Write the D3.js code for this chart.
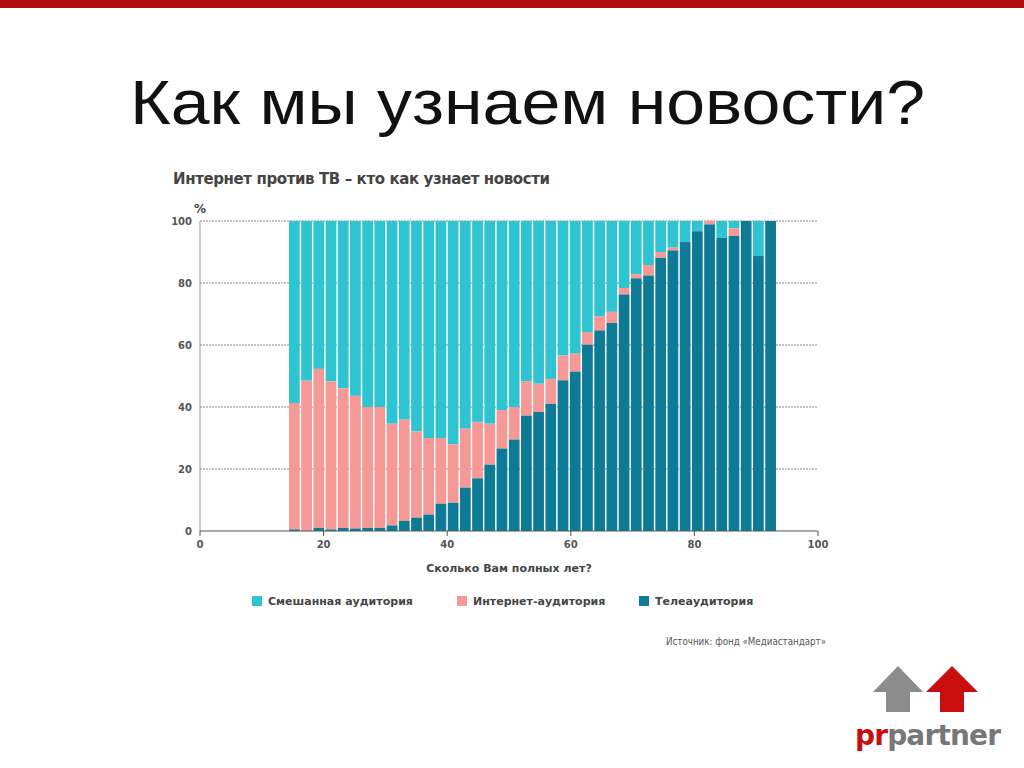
<!DOCTYPE html><html><head><meta charset="utf-8">
<script src="https://cdn.jsdelivr.net/npm/d3@7"></script>
<style>body{margin:0;background:#fff}</style></head><body>
<svg id="c" width="1024" height="768"></svg>
<script>
const binLabels = d3.range(40).map(i=>String(14+2*i));
const tv = [0.5,0,1,0.5,1,0.8,1,1,1.8,3.3,4.3,5.3,8.8,9.1,14,17,21.4,26.6,29.5,37.2,38.4,41,48.6,51.4,60.1,64.7,67.1,76.3,81.5,82.4,88.1,90.5,93.2,96.7,98.9,94.6,95.2,100,88.7,100];
const tvNet = [41.3,48.5,52.3,48.3,46,43.6,40,40,34.6,35.9,32.1,30,30,28,33,35.2,34.6,39,40,48.3,47.5,49,56.6,57.2,64.2,69.3,70.7,78.4,82.8,85.8,90,91.4,93.2,96.7,100,94.6,97.6,100,88.7,100];
const yTicks=[0,20,40,60,80,100], xTicks=[0,20,40,60,80,100];
const colors={mix:"#2ec4d2",net:"#f59896",tv:"#0e7b96"};
const svg=d3.select("#c");
svg.append("rect").attr("x",0).attr("y",0).attr("width",1024).attr("height",8).attr("fill","#b00d0d");
svg.append("text").attr("x",130).attr("y",124).attr("font-family","Liberation Sans, Arial").attr("font-size",63).attr("fill","#111").attr("textLength",795).attr("lengthAdjust","spacingAndGlyphs").text("Как мы узнаем новости?");
const F="DejaVu Sans, Arial";
svg.append("text").attr("x",173).attr("y",184).attr("font-family",F).attr("font-size",15).attr("font-weight","bold").attr("fill","#444").attr("textLength",377).text("Интернет против ТВ – кто как узнает новости");
const x=d3.scaleLinear().domain([0,100]).range([200,818]);
const y=d3.scaleLinear().domain([0,100]).range([531,221]);
const xb=d3.scaleBand().domain(binLabels).range([x(14.4),x(93.2)]).paddingInner(0.12);
const g=svg.append("g");
yTicks.forEach(t=>{ if(t>0) g.append("line").attr("x1",200).attr("x2",818).attr("y1",y(t)).attr("y2",y(t)).attr("stroke","#555").attr("stroke-dasharray","2,1").attr("stroke-width",0.7);
 g.append("text").attr("x",192).attr("y",y(t)+4).attr("text-anchor","end").attr("font-family",F).attr("font-size",10).attr("font-weight","bold").attr("fill","#555").text(t);});
g.append("text").attr("x",194).attr("y",213).attr("font-family",F).attr("font-size",12).attr("font-weight","bold").attr("fill","#444").text("%");
g.append("line").attr("x1",200).attr("x2",200).attr("y1",221).attr("y2",531).attr("stroke","#999");
binLabels.forEach((s,i)=>{
 const X=xb(s), w=xb.bandwidth();
 g.append("rect").attr("x",X).attr("width",w).attr("y",y(100)).attr("height",y(tvNet[i])-y(100)).attr("fill",colors.mix);
 g.append("rect").attr("x",X).attr("width",w).attr("y",y(tvNet[i])).attr("height",y(tv[i])-y(tvNet[i])).attr("fill",colors.net);
 g.append("rect").attr("x",X).attr("width",w).attr("y",y(tv[i])).attr("height",y(0)-y(tv[i])).attr("fill",colors.tv);
});
g.append("line").attr("x1",200).attr("x2",818).attr("y1",531).attr("y2",531).attr("stroke","#555");
xTicks.forEach(t=>{g.append("line").attr("x1",x(t)).attr("x2",x(t)).attr("y1",531).attr("y2",536).attr("stroke","#555");
 g.append("text").attr("x",x(t)).attr("y",548).attr("text-anchor","middle").attr("font-family",F).attr("font-size",10).attr("font-weight","bold").attr("fill","#555").text(t);});
g.append("text").attr("x",509).attr("y",572).attr("text-anchor","middle").attr("font-family",F).attr("font-size",11).attr("font-weight","bold").attr("fill","#444").text("Сколько Вам полных лет?");
const leg=[["Смешанная аудитория",colors.mix,252],["Интернет-аудитория",colors.net,457],["Телеаудитория",colors.tv,639]];
leg.forEach(([t,c,lx])=>{g.append("rect").attr("x",lx).attr("y",596).attr("width",10).attr("height",10).attr("fill",c);
 g.append("text").attr("x",lx+16).attr("y",605).attr("font-family",F).attr("font-size",11).attr("font-weight","bold").attr("fill","#444").text(t);});
g.append("text").attr("x",826).attr("y",645).attr("text-anchor","end").attr("font-family",F).attr("font-size",10).attr("fill","#555").attr("textLength",160).attr("lengthAdjust","spacingAndGlyphs").text("Источник: фонд «Медиастандарт»");
svg.append("path").attr("d","M873,692 L898,666 L923,692 L910,692 L910,712 L886,712 L886,692 Z").attr("fill","#8c8c8c");
svg.append("path").attr("d","M926,692 L952,666 L978,692 L964,692 L964,712 L940,712 L940,692 Z").attr("fill","#c80e0e");
const lt=svg.append("text").attr("x",855).attr("y",745).attr("font-family","DejaVu Sans, Arial").attr("font-size",28).attr("font-weight","bold").attr("textLength",146);
lt.append("tspan").attr("fill","#c80e0e").text("pr");
lt.append("tspan").attr("fill","#777").text("partner");
</script></body></html>
